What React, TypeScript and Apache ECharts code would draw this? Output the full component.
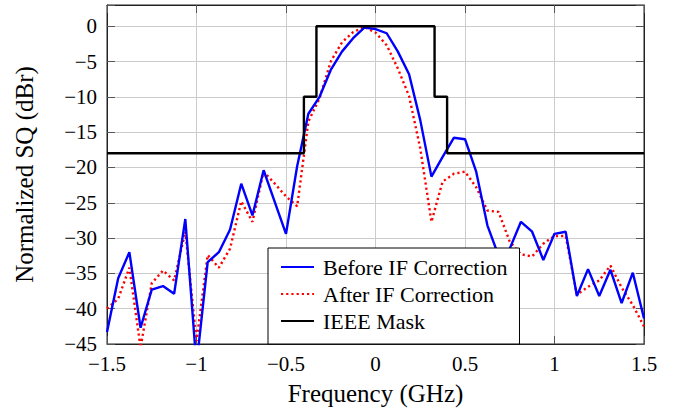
import React, { useEffect, useRef } from "react";
import * as echarts from "echarts";

const freqGHz = [
  -1.5, -1.4375, -1.375, -1.3125, -1.25, -1.1875, -1.125, -1.0625, -1, -0.9375,
  -0.875, -0.8125, -0.75, -0.6875, -0.625, -0.5625, -0.5, -0.4375, -0.375, -0.3125,
  -0.25, -0.1875, -0.125, -0.0625, 0, 0.0625, 0.125, 0.1875, 0.25, 0.3125,
  0.375, 0.4375, 0.5, 0.5625, 0.625, 0.6875, 0.75, 0.8125, 0.875, 0.9375,
  1, 1.0625, 1.125, 1.1875, 1.25, 1.3125, 1.375, 1.4375, 1.5,
];

const beforeIF = [
  -43.3, -35.7, -32.0, -42.7, -37.3, -36.8, -37.9, -27.3, -48.0, -33.4,
  -32.0, -28.8, -22.3, -26.8, -20.4, -24.9, -29.4, -19.8, -12.4, -10.0,
  -6.2, -3.6, -1.7, -0.2, -0.4, -1.0, -3.6, -6.8, -13.3, -21.3,
  -18.5, -15.8, -16.0, -20.6, -28.2, -32.5, -31.5, -27.7, -29.1, -33.1,
  -29.4, -29.1, -38.2, -34.4, -38.2, -34.5, -39.2, -34.9, -41.4,
];

const afterIF = [
  -40.0, -38.6, -34.2, -45.5, -36.4, -34.6, -36.0, -29.1, -44.6, -32.4,
  -34.2, -31.5, -24.8, -27.7, -20.6, -22.3, -24.1, -25.5, -13.5, -10.2,
  -5.0, -2.3, -0.85, -0.1, -0.9, -2.7, -6.0, -9.9, -17.3, -27.7,
  -22.0, -20.9, -20.6, -22.8, -26.1, -26.3, -30.5, -32.3, -32.6, -30.8,
  -29.7, -29.7, -38.0, -36.9, -36.0, -33.9, -37.0, -39.5, -42.5,
];

const maskFreq = [-1.5, -0.4, -0.4, -0.33, -0.33, 0.33, 0.33, 0.4, 0.4, 1.5];
const maskLevel = [-18, -18, -10, -10, 0, 0, -10, -10, -18, -18];

const seriesNames = ["Before IF Correction", "After IF Correction", "IEEE Mask"];

const xTicks = [-1.5, -1, -0.5, 0, 0.5, 1, 1.5];
const yTicks = [-45, -40, -35, -30, -25, -20, -15, -10, -5, 0];

const FONT = "'Liberation Serif', 'Times New Roman', serif";
const fmt = (v: number) => String(v).replace("-", "\u2212");

export default function App() {
  const ref = useRef<HTMLDivElement>(null);

  useEffect(() => {
    if (!ref.current) return;
    const chart = echarts.init(ref.current, undefined, { renderer: "svg" });

    const pair = (xs: number[], ys: number[]) => xs.map((x, i) => [x, ys[i]]);

    const frameColor = "#222";
    const gridColor = "#cccccc";

    chart.setOption({
      animation: false,
      backgroundColor: "#ffffff",
      textStyle: { fontFamily: FONT },
      grid: {
        left: 107,
        right: 30,
        top: 5,
        bottom: 71,
        show: true,
        borderColor: frameColor,
        borderWidth: 1,
        backgroundColor: "transparent",
      },
      legend: {
        orient: "vertical",
        left: 268,
        top: 248,
        data: seriesNames,
        itemWidth: 33,
        itemHeight: 14,
        itemGap: 5,
        padding: [8, 12, 12, 12],
        backgroundColor: "#ffffff",
        borderColor: "#000000",
        borderWidth: 1,
        borderRadius: 0,
        itemStyle: { opacity: 0, color: "transparent", borderWidth: 0 },
        textStyle: {
          fontFamily: FONT,
          fontSize: 22,
          lineHeight: 22,
          color: "#000",
          padding: [0, 0, 0, 4],
        },
      },
      xAxis: [
        {
          type: "value",
          min: -1.5,
          max: 1.5,
          interval: 0.5,
          name: "Frequency (GHz)",
          nameLocation: "middle",
          nameGap: 37,
          nameTextStyle: { fontFamily: FONT, fontSize: 25, color: "#000" },
          axisLine: { show: true, onZero: false, lineStyle: { color: frameColor, width: 1 } },
          axisTick: { show: true, inside: true, length: 8, lineStyle: { color: "#555" } },
          axisLabel: {
            margin: 9,
            fontFamily: FONT,
            fontSize: 21,
            color: "#000",
            formatter: (v: number) => (xTicks.includes(v) ? fmt(v) : ""),
          },
          splitLine: { show: true, lineStyle: { color: gridColor, width: 1 } },
        },
        {
          type: "value",
          position: "top",
          min: -1.5,
          max: 1.5,
          interval: 0.5,
          axisLine: { show: true, onZero: false, lineStyle: { color: frameColor, width: 1 } },
          axisTick: { show: true, inside: true, length: 8, lineStyle: { color: "#555" } },
          axisLabel: { show: false },
          splitLine: { show: false },
        },
      ],
      yAxis: [
        {
          type: "value",
          min: -45,
          max: 3,
          interval: 5,
          name: "Normalized SQ (dBr)",
          nameLocation: "middle",
          nameGap: 70,
          nameTextStyle: { fontFamily: FONT, fontSize: 25, color: "#000" },
          axisLine: { show: true, onZero: false, lineStyle: { color: frameColor, width: 1 } },
          axisTick: { show: true, inside: true, length: 8, lineStyle: { color: "#555" } },
          axisLabel: {
            margin: 10,
            fontFamily: FONT,
            fontSize: 21,
            color: "#000",
            formatter: (v: number) => (yTicks.includes(v) ? fmt(v) : ""),
          },
          splitLine: { show: true, lineStyle: { color: gridColor, width: 1 } },
        },
        {
          type: "value",
          position: "right",
          min: -45,
          max: 3,
          interval: 5,
          axisLine: { show: true, onZero: false, lineStyle: { color: frameColor, width: 1 } },
          axisTick: { show: true, inside: true, length: 8, lineStyle: { color: "#555" } },
          axisLabel: { show: false },
          splitLine: { show: false },
        },
      ],
      series: [
        {
          name: seriesNames[1],
          type: "line",
          data: pair(freqGHz, afterIF),
          showSymbol: false,
          symbol: "none",
          clip: true,
          z: 2,
          lineStyle: { color: "#ff0000", width: 2.4, type: [2.2, 3] },
          itemStyle: { color: "#ff0000" },
        },
        {
          name: seriesNames[0],
          type: "line",
          data: pair(freqGHz, beforeIF),
          showSymbol: false,
          symbol: "none",
          clip: true,
          z: 3,
          lineStyle: { color: "#0000ff", width: 2.4 },
          itemStyle: { color: "#0000ff" },
        },
        {
          name: seriesNames[2],
          type: "line",
          data: pair(maskFreq, maskLevel),
          showSymbol: false,
          symbol: "none",
          clip: true,
          z: 4,
          lineStyle: { color: "#000000", width: 2.4 },
          itemStyle: { color: "#000000" },
        },
      ],
    });

    return () => chart.dispose();
  }, []);

  return (
    <div
      ref={ref}
      style={{ position: "fixed", left: 0, top: 0, width: 674, height: 415 }}
    />
  );
}
